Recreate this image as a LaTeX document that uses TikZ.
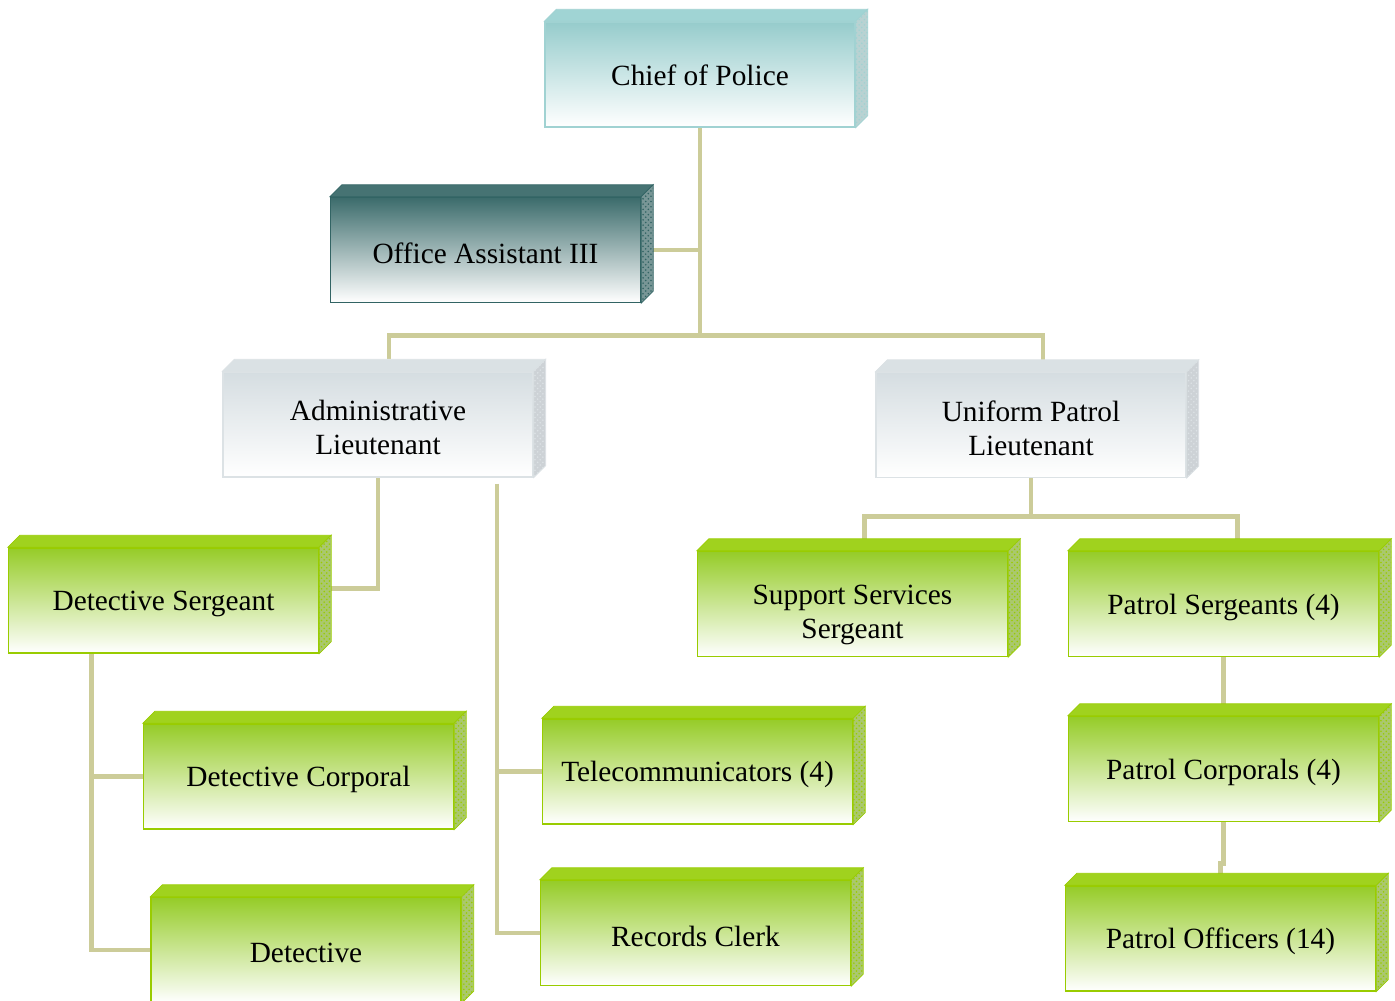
\documentclass[tikz,border=0pt]{standalone}
\usepackage{fontspec}
\setmainfont{Liberation Serif}
\usetikzlibrary{calc,patterns,backgrounds}
\definecolor{linktan}{RGB}{204,204,153}
\definecolor{chieftop}{RGB}{150,204,204}
\definecolor{chiefedge}{RGB}{160,210,210}
\definecolor{chieflid}{RGB}{160,212,212}
\definecolor{chiefside}{RGB}{185,210,210}
\definecolor{officetop}{RGB}{60,108,108}
\definecolor{officeedge}{RGB}{50,100,100}
\definecolor{officelid}{RGB}{70,115,115}
\definecolor{officeside}{RGB}{120,150,150}
\definecolor{greytop}{RGB}{213,221,225}
\definecolor{greyedge}{RGB}{220,226,229}
\definecolor{greylid}{RGB}{218,225,228}
\definecolor{greyside}{RGB}{205,210,214}
\definecolor{greentop}{RGB}{150,204,40}
\definecolor{greenedge}{RGB}{153,204,0}
\definecolor{greenlid}{RGB}{160,210,30}
\definecolor{greenside}{RGB}{170,200,110}
\tikzset{
  rank/.style={rectangle,inner sep=0pt,minimum width=6.2cm,minimum height=2.1cm,
    line width=0.8pt,bottom color=white},
  ranktext/.style={inner sep=0pt,align=center,font=\fontsize{16.7}{19.4}\selectfont},
  link/.style={draw=linktan,line width=2.8pt}
}
\newcommand{\tikzRankBox}[5][3]{
  \node[rank,draw=#4edge,top color=#4top,bottom color=white] (#2) at (#3) {};
  \node[ranktext] (#2-text) at ([shift={(0,#1)}]#2.center) {#5};
  \path[draw=#4edge,fill=#4lid,thin] (#2.north west) -- ++(12,-12) -- ($(#2.north east)+(12,-12)$) -- (#2.north east) -- cycle;
  \path[draw=#4edge,fill=#4side,thin,postaction={pattern=crosshatch dots,pattern color=#4edge}]
    (#2.north east) -- ++(12,-12) -- ($(#2.south east)+(12,-12)$) -- (#2.south east) -- cycle;
}
\begin{document}
\begin{tikzpicture}[x=0.02cm,y=-0.02cm]
  \useasboundingbox (0,0) rectangle (1395,1000);

  \tikzRankBox[1]{chief}{700,74.5}{chief}{Chief of Police}
  \tikzRankBox{office}{485.5,250}{office}{Office Assistant III}
  \tikzRankBox{admin}{378,424.5}{grey}{Administrative\\Lieutenant}
  \tikzRankBox{uniform}{1031,425}{grey}{Uniform Patrol\\Lieutenant}

  \tikzRankBox{detsgt}{163.5,600.5}{green}{Detective Sergeant}
  \tikzRankBox{detcpl}{298.5,776.5}{green}{Detective Corporal}
  \tikzRankBox{detective}{306,950}{green}{Detective}
  \tikzRankBox{telecom}{697.5,771.5}{green}{Telecommunicators (4)}
  \tikzRankBox{records}{695.5,933}{green}{Records Clerk}

  \tikzRankBox[11]{support}{852.5,604}{green}{Support Services\\Sergeant}
  \tikzRankBox{patsgt}{1223.5,604}{green}{Patrol Sergeants (4)}
  \tikzRankBox{patcpl}{1223.5,769}{green}{Patrol Corporals (4)}
  \tikzRankBox{patoff}{1220.5,938.5}{green}{Patrol Officers (14)}

  \begin{scope}[on background layer]
  % chief and the two lieutenants
  \coordinate (cbus) at ([shift={(0,208)}]chief.south);
  \draw[link] (chief.south) -- (cbus);
  \draw[link] (office.east) -- (office.east -| cbus);
  \draw[link] ([shift={(11,-12)}]admin.north) |- (cbus) -| ([shift={(12,-12)}]uniform.north);

  % administrative side
  \draw[link] (admin.south) |- ([shift={(0,-12)}]detsgt.east);
  \coordinate (adm2) at ([shift={(119,6)}]admin.south);
  \draw[link] (adm2) |- (records.west);
  \draw[link] (telecom.west) -- (telecom.west -| adm2);
  \coordinate (dsfoot) at ([shift={(-72,0)}]detsgt.south);
  \draw[link] (dsfoot) |- (detective.west);
  \draw[link] (detcpl.west) -- (detcpl.west -| dsfoot);

  % patrol side
  \coordinate (ubus) at ([shift={(0,38)}]uniform.south);
  \draw[link] (uniform.south) -- (ubus);
  \draw[link] ([shift={(12,-12)}]support.north) |- (ubus) -| ([shift={(14,-12)}]patsgt.north);
  \draw[link] (patsgt.south) -- (patcpl.north);
  \draw[link] (patcpl.south) -- ++(0,41) -| (patoff.north);
  \end{scope}

\end{tikzpicture}
\end{document}
